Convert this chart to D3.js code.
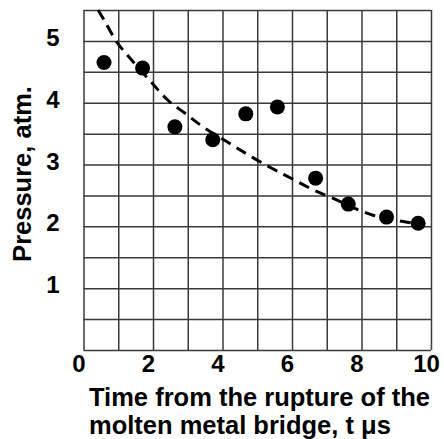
<!DOCTYPE html>
<html>
<head>
<meta charset="utf-8">
<script src="https://cdn.jsdelivr.net/npm/d3@7"></script>
<style>
	body { margin: 0; background: #fff; }
	text { font-family: "Liberation Sans", Arial, sans-serif; font-weight: bold; fill: #000; }
</style>
</head>
<body>
<div id="chart"></div>
<script>

// measured points, time in microseconds vs pressure in atm.
var times = [0.59, 1.70, 2.63, 3.72, 4.67, 5.58, 6.68, 7.62, 8.72, 9.63];
var pressures = [4.65, 4.56, 3.61, 3.40, 3.82, 3.93, 2.78, 2.36, 2.15, 2.05];

// the dashed trend curve
var curveTimes = [0.42, 0.62, 0.96, 1.34, 1.97, 2.43, 2.92, 3.44, 4.27, 4.85, 5.42, 6.00, 6.58, 7.15, 8.33, 9.48, 9.68];
var curvePressures = [5.50, 5.31, 4.98, 4.72, 4.32, 4.04, 3.83, 3.61, 3.32, 3.12, 2.94, 2.77, 2.60, 2.46, 2.18, 2.05, 2.02];

var xTickLabels = [0, 2, 4, 6, 8, 10];
var yTickLabels = [1, 2, 3, 4, 5];
var xGrid = d3.range(0, 11, 1);
var yGrid = d3.range(0, 5.51, 0.5);

var width = 444,
	height = 439,
	LEFT = 83.5,
	RIGHT = 431,
	TOP = 10,
	BOTTOM = 350,
	GRID_COLOR = "#3a3a3a",
	DOT_RADIUS = 7.5;

var svg = d3.select("#chart").append("svg")
	.attr("width", width)
	.attr("height", height);

var x = d3.scaleLinear().domain([0, 10]).range([LEFT, RIGHT]);
var y = d3.scaleLinear().domain([0, 5.5]).range([BOTTOM, TOP]);

// grid lines, drawn as axes with long ticks and no labels
svg.append("g")
	.attr("class", "grid")
	.attr("transform", "translate(0," + BOTTOM + ")")
	.call(d3.axisBottom(x).tickValues(xGrid).tickSize(-(BOTTOM - TOP)).tickFormat(""))
	.call(function(g) { g.select(".domain").remove(); });

svg.append("g")
	.attr("class", "grid")
	.attr("transform", "translate(" + LEFT + ",0)")
	.call(d3.axisLeft(y).tickValues(yGrid).tickSize(-(RIGHT - LEFT)).tickFormat(""))
	.call(function(g) { g.select(".domain").remove(); });

svg.selectAll(".grid line")
	.style("stroke", GRID_COLOR)
	.style("stroke-width", "1.5px");

// tick labels
var xAxis = svg.append("g")
	.attr("transform", "translate(0," + BOTTOM + ")")
	.call(d3.axisBottom(x).tickValues(xTickLabels).tickFormat(d3.format("d")).tickSize(0).tickPadding(0));
xAxis.select(".domain").remove();
xAxis.selectAll("text")
	.attr("x", -5)
	.attr("y", 22)
	.attr("dy", 0)
	.style("font-size", "24px");

var yAxis = svg.append("g")
	.attr("transform", "translate(53,0)")
	.call(d3.axisLeft(y).tickValues(yTickLabels).tickFormat(d3.format("d")).tickSize(0).tickPadding(0));
yAxis.select(".domain").remove();
yAxis.selectAll("text")
	.attr("x", 0)
	.attr("dy", 4.5)
	.style("text-anchor", "middle")
	.style("font-size", "24px");

// dashed trend
var line = d3.line()
	.x(function(d) { return x(d[0]); })
	.y(function(d) { return y(d[1]); })
	.curve(d3.curveCatmullRom);

svg.append("path")
	.datum(d3.zip(curveTimes, curvePressures))
	.attr("d", line)
	.style("fill", "none")
	.style("stroke", "#000")
	.style("stroke-width", "3px")
	.style("stroke-dasharray", "11,7");

// data points
svg.append("g").selectAll("circle")
	.data(d3.zip(times, pressures))
	.enter()
	.append("circle")
	.attr("cx", function(d) { return x(d[0]); })
	.attr("cy", function(d) { return y(d[1]); })
	.attr("r", DOT_RADIUS)
	.style("fill", "#000");

// axis titles
svg.append("text")
	.attr("transform", "translate(31,174) rotate(-90)")
	.style("text-anchor", "middle")
	.style("font-size", "25.5px")
	.text("Pressure, atm.");

svg.append("text")
	.attr("x", 89)
	.attr("y", 406)
	.style("font-size", "25.5px")
	.text("Time from the rupture of the");

svg.append("text")
	.attr("x", 89)
	.attr("y", 434)
	.style("font-size", "25.5px")
	.text("molten metal bridge, t μs");

</script>
</body>
</html>
